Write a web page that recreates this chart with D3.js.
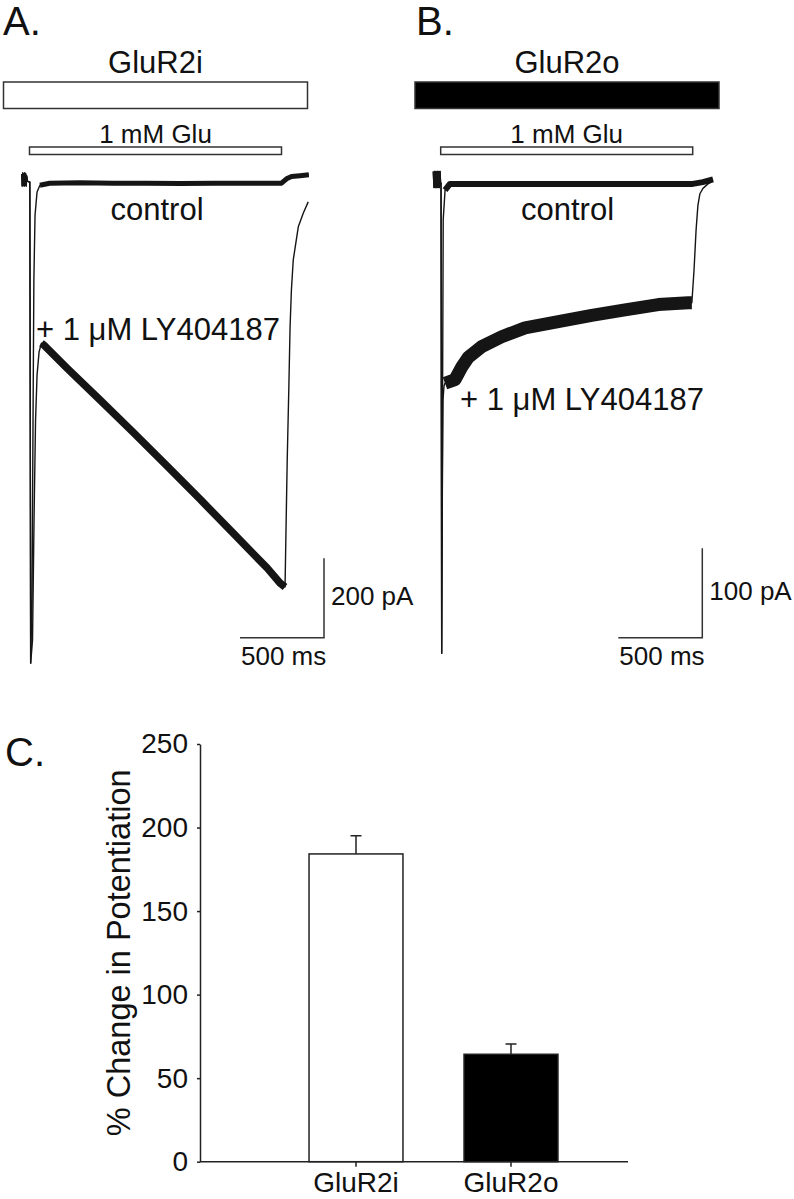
<!DOCTYPE html>
<html>
<head>
<meta charset="utf-8">
<script src="https://cdn.jsdelivr.net/npm/d3@7/dist/d3.min.js"></script>
<style>
  html, body { margin: 0; padding: 0; background: #fff; }
  svg { display: block; }
  text { font-family: 'Liberation Sans', Arial, Helvetica, sans-serif; fill: #111; }
</style>
</head>
<body>
<svg id="chart" width="794" height="1199"></svg>
<script>
// ---------------- DATA ----------------
// Panel A (GluR2i) traces: time (ms, 0 = glutamate onset), current (pA)
const tA_control = [-46,-43.5,-40.5,-37.5,-34.5,-31.5,-28.5,-25.5,-22.5,-19.5,-16.5,-12,-3,2,7,15,21,26,33,45,62,120,300,500,700,900,1100,1300,1500,1530,1560,1610,1663];
const iA_control = [20,-10,23,-8,20,-10,23,-8,20,-10,15,2,0,0,-1212,-1053,-600,-247,-83,-25,-8,-3,-2,-3,-3,-4,-3,-3,-3,8,14,16,18];

const tA_ly = [-46,-43.5,-40.5,-37.5,-34.5,-31.5,-28.5,-25.5,-22.5,-19.5,-16.5,-12,-3,2,7,18,27,36,45,57,71,86,223,420,616,818,1015,1211,1414,1491,1521,1534,1543,1551,1559,1570,1600,1630,1659];
const iA_ly = [20,-10,23,-8,20,-10,23,-8,20,-10,15,2,0,0,-1212,-1154,-851,-600,-486,-428,-406,-411,-469,-549,-630,-715,-799,-884,-972,-1010,-1020,-700,-531,-365,-272,-196,-113,-78,-50];

// Panel B (GluR2o) traces
const tB_control = [-44,-40,-36,-32,-28,-24,-20,-16,-12,-8,-4,0,2,6,11,15,26,55,300,600,900,1200,1500,1560,1621];
const iB_control = [13,-5,13,-5,13,-5,13,-5,13,-5,13,-3,0,-526,-243,-41,-8,-1,-1,-1,-1,-1,-1,1,4];

const tB_ly = [-44,-40,-36,-32,-28,-24,-20,-16,-12,-8,-4,0,2,6,9.5,13.7,19.6,25.6,85,125,164,244,363,502,700,899,1097,1295,1474,1495,1508,1520,1531,1543,1561,1591,1621];
const iB_ly = [13,-5,13,-5,13,-5,13,-5,13,-5,13,-3,0,-526,-355,-243,-227,-224,-220,-206,-195,-183,-172,-162,-155,-148,-142,-136,-134,-134,-97,-53,-25,-12,-6,-1,2];

const gluDuration = 1500;          // ms
const scaleBarTime = 500;          // ms
const scaleBarA = 200;             // pA
const scaleBarB = 100;             // pA

// Panel C bar chart
const categories = ["GluR2i", "GluR2o"];
const meanValues = [184.2, 64.3];
const semValues = [10.9, 6.1];
const yTicks = [0, 50, 100, 150, 200, 250];
const yLabel = "% Change in Potentiation";

// ---------------- DRAW ----------------
const svg = d3.select("#chart");
svg.append("rect").attr("width", 794).attr("height", 1199).attr("fill", "#fff");
const ink = "#151515";

function zip(t, v) { return t.map((d, i) => ({ t: d, v: v[i] })); }

function drawPanel(cfg) {
  const g = svg.append("g");
  const x = d3.scaleLinear().domain([0, gluDuration]).range(cfg.xRange);
  const y = d3.scaleLinear().domain([0, -cfg.scaleBarPA]).range(cfg.yRange);
  const line = d3.line().x(d => x(d.t)).y(d => y(d.v));

  // panel letter
  g.append("text").attr("x", cfg.letterX).attr("y", 35).attr("font-size", 40).text(cfg.letter);
  // construct box
  g.append("rect").attr("x", cfg.boxX).attr("y", 82).attr("width", 304).attr("height", 26.5)
    .attr("fill", cfg.boxFill).attr("stroke", "#333").attr("stroke-width", 1.5);
  g.append("text").attr("x", cfg.boxX + 152).attr("y", 73).attr("font-size", 31)
    .attr("text-anchor", "middle").text(cfg.construct);
  // glutamate bar
  g.append("rect").attr("x", x(0)).attr("y", 147).attr("width", x(gluDuration) - x(0)).attr("height", 7.5)
    .attr("fill", "#fff").attr("stroke", "#333").attr("stroke-width", 1.5);
  g.append("text").attr("x", (x(0) + x(gluDuration)) / 2).attr("y", 143).attr("font-size", 26)
    .attr("text-anchor", "middle").text("1 mM Glu");

  // traces: thin line + noise band segments
  cfg.traces.forEach(tr => {
    const pts = zip(tr.t, tr.v);
    g.append("path").datum(pts).attr("d", line)
      .attr("fill", "none").attr("stroke", ink).attr("stroke-width", 1.4).attr("stroke-linejoin", "round");
    const band = pts.filter(d => d.t >= tr.band[0] && d.t <= tr.band[1]);
    g.append("path").datum(band).attr("d", line)
      .attr("fill", "none").attr("stroke", ink).attr("stroke-width", tr.band[2]).attr("stroke-linejoin", "round");
  });

  // labels
  g.append("text").attr("x", cfg.controlX).attr("y", 220).attr("font-size", 31)
    .attr("text-anchor", "middle").text("control");
  g.append("text").attr("x", cfg.lyX).attr("y", cfg.lyY).attr("font-size", 31)
    .text("+ 1 \u03BCM LY404187");

  // scale bar
  const cx = cfg.barCornerX, cy = 637.7;
  const w = x(scaleBarTime) - x(0);
  const h = y(-cfg.scaleBarPA) - y(0);
  g.append("path").attr("d", `M${cx - w},${cy}H${cx}V${cy - h}`)
    .attr("fill", "none").attr("stroke", "#333").attr("stroke-width", 1.5);
  g.append("text").attr("x", cx - w + 1).attr("y", 665).attr("font-size", 26).text(scaleBarTime + " ms");
  g.append("text").attr("x", cx + 7).attr("y", cfg.pAy).attr("font-size", 26).text(cfg.scaleBarPA + " pA");
}

drawPanel({
  letter: "A.", letterX: 3, boxX: 3.5, boxFill: "#fff", construct: "GluR2i",
  xRange: [29.5, 281.5], yRange: [182, 261.4], scaleBarPA: scaleBarA,
  traces: [
    { t: tA_control, v: iA_control, band: [62, 1700, 5] },
    { t: tA_ly, v: iA_ly, band: [71, 1521, 7.5] }
  ],
  controlX: 157, lyX: 36, lyY: 340, barCornerX: 324, pAy: 605
});

drawPanel({
  letter: "B.", letterX: 416, boxX: 415, boxFill: "#000", construct: "GluR2o",
  xRange: [440.7, 692.7], yRange: [183, 272.4], scaleBarPA: scaleBarB,
  traces: [
    { t: tB_control, v: iB_control, band: [26, 1700, 6] },
    { t: tB_ly, v: iB_ly, band: [20, 1495, 13] }
  ],
  controlX: 567.5, lyX: 460, lyY: 410, barCornerX: 702.3, pAy: 600
});

// ---------------- Panel C ----------------
const gc = svg.append("g");
gc.append("text").attr("x", 5).attr("y", 766).attr("font-size", 40).text("C.");

const yC = d3.scaleLinear().domain([0, 250]).range([1161.7, 744]);
const xC = d3.scaleBand().domain(categories).range([278.5, 588.5]).paddingInner(0.394).paddingOuter(0.197);

const yAxis = gc.append("g").attr("transform", "translate(200,0)")
  .call(d3.axisLeft(yC).tickValues(yTicks).tickSize(3).tickPadding(9).tickSizeOuter(0));
yAxis.selectAll("path, line").attr("stroke", "#222").attr("stroke-width", 1.5);
yAxis.selectAll("text").attr("font-size", 28).attr("fill", "#111")
  .attr("font-family", "'Liberation Sans', Arial, sans-serif");

// x axis
gc.append("line").attr("x1", 200).attr("x2", 628).attr("y1", yC(0)).attr("y2", yC(0))
  .attr("stroke", "#222").attr("stroke-width", 1.5);
const xAxis = gc.append("g").attr("transform", `translate(0,${yC(0)})`)
  .call(d3.axisBottom(xC).tickSize(5).tickSizeOuter(0));
xAxis.select(".domain").remove();
xAxis.selectAll("line").attr("stroke", "#222").attr("stroke-width", 1.5);
xAxis.selectAll("text").attr("font-size", 28).attr("fill", "#111")
  .attr("dy", null).attr("y", 1192 - 1161.7)
  .attr("font-family", "'Liberation Sans', Arial, sans-serif");

// axis title
gc.append("text").attr("transform", `translate(130,${(yC(0) + yC(250)) / 2}) rotate(-90)`)
  .attr("text-anchor", "middle").attr("font-size", 32.5).text(yLabel);

// bars
const barData = categories.map((c, i) => ({ c, m: meanValues[i], s: semValues[i] }));
const fills = ["#fff", "#000"];
gc.selectAll(".err").data(barData).enter().append("path")
  .attr("d", d => {
    const cx = xC(d.c) + xC.bandwidth() / 2;
    return `M${cx},${yC(d.m)}V${yC(d.m + d.s)}M${cx - 5.5},${yC(d.m + d.s)}H${cx + 5.5}`;
  })
  .attr("fill", "none").attr("stroke", "#222").attr("stroke-width", 1.5);
gc.selectAll(".bar").data(barData).enter().append("rect")
  .attr("x", d => xC(d.c)).attr("width", xC.bandwidth())
  .attr("y", d => yC(d.m)).attr("height", d => yC(0) - yC(d.m))
  .attr("fill", (d, i) => fills[i]).attr("stroke", "#222").attr("stroke-width", 1.5);
</script>
</body>
</html>
